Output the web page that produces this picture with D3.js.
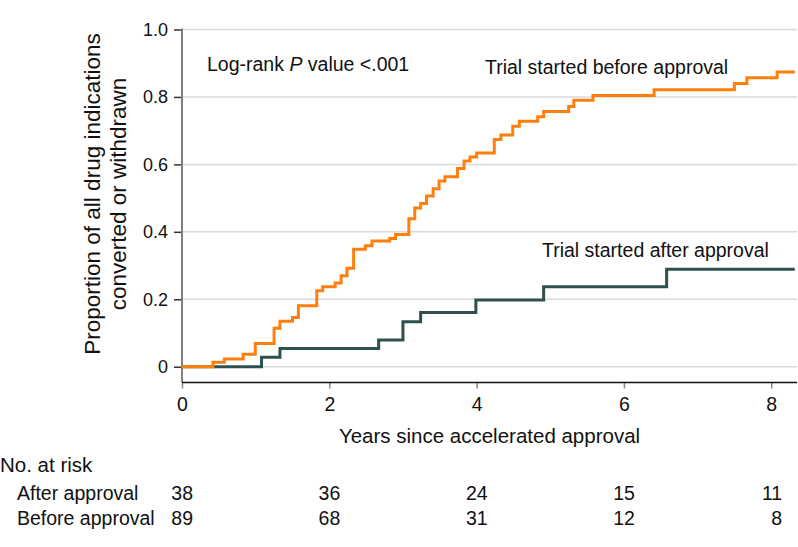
<!DOCTYPE html>
<html>
<head>
<meta charset="utf-8">
<script src="https://cdn.jsdelivr.net/npm/d3@7"></script>
<style>
  html, body { margin: 0; padding: 0; background: #fff; }
  svg { display: block; font-family: "Liberation Sans", Arial, sans-serif; }
</style>
</head>
<body>
<svg id="chart" width="798" height="547"></svg>
<script>
// ---- data ----
const beforeTimes = [0, 0.42, 0.575, 0.83, 0.995, 1.25, 1.33, 1.50, 1.58, 1.83, 1.91, 2.08, 2.16, 2.24, 2.33, 2.49, 2.58, 2.82, 2.90, 3.08, 3.16, 3.24, 3.32, 3.41, 3.49, 3.57, 3.74, 3.83, 3.91, 4.00, 4.24, 4.33, 4.49, 4.58, 4.83, 4.91, 5.25, 5.32, 5.58, 6.41, 7.50, 7.67, 8.08, 8.32];
const beforeValues = [0, 0.013, 0.023, 0.037, 0.069, 0.114, 0.135, 0.146, 0.181, 0.225, 0.237, 0.248, 0.270, 0.292, 0.348, 0.359, 0.373, 0.380, 0.392, 0.439, 0.471, 0.484, 0.506, 0.528, 0.551, 0.563, 0.588, 0.610, 0.622, 0.634, 0.674, 0.687, 0.713, 0.728, 0.741, 0.757, 0.772, 0.790, 0.804, 0.821, 0.840, 0.857, 0.874, 0.874];
const afterTimes = [0, 1.08, 1.33, 2.67, 3.00, 3.24, 3.99, 4.91, 6.58, 8.32];
const afterValues = [0, 0.028, 0.054, 0.079, 0.133, 0.161, 0.198, 0.237, 0.289, 0.289];

const xTicks = [0, 2, 4, 6, 8];
const yTicks = [0, 0.2, 0.4, 0.6, 0.8, 1.0];
const yTickLabels = ["0", "0.2", "0.4", "0.6", "0.8", "1.0"];

const riskLabels = ["After approval", "Before approval"];
const riskAfter = [38, 36, 24, 15, 11];
const riskBefore = [89, 68, 31, 12, 8];

// ---- layout ----
const svg = d3.select("#chart");
const x = d3.scaleLinear().domain([0, 8.35]).range([182, 797]);
const y = d3.scaleLinear().domain([0, 1]).range([366.7, 29.5]);
const axisY = 382.5;

const ORANGE = "#ff7f0e";
const DARK = "#2e5150";

// gridlines
svg.append("g").selectAll("line").data(yTicks).join("line")
  .attr("x1", x(0)).attr("x2", 797)
  .attr("y1", d => y(d)).attr("y2", d => y(d))
  .attr("stroke", "#d9d9d9").attr("stroke-width", 1.5);

// y axis
const yAxis = svg.append("g").attr("transform", `translate(${x(0)},0)`)
  .call(d3.axisLeft(y).tickValues(yTicks).tickSize(8).tickPadding(6)
    .tickFormat((d, i) => yTickLabels[i]));
yAxis.select(".domain").remove();
yAxis.selectAll(".tick line").attr("stroke", "#333").attr("stroke-width", 1.5);
yAxis.selectAll(".tick text").attr("font-size", 18).attr("fill", "#111")
  .attr("font-family", "Liberation Sans, Arial, sans-serif");
svg.append("line").attr("x1", x(0)).attr("x2", x(0)).attr("y1", y(1) - 1).attr("y2", axisY)
  .attr("stroke", "#808080").attr("stroke-width", 2);

// x axis
const xAxis = svg.append("g").attr("transform", `translate(0,${axisY})`)
  .call(d3.axisBottom(x).tickValues(xTicks).tickSize(6).tickPadding(9));
xAxis.select(".domain").remove();
xAxis.selectAll(".tick line").attr("stroke", "#888").attr("stroke-width", 1.5);
xAxis.selectAll(".tick text").attr("font-size", 19.5).attr("fill", "#111")
  .attr("font-family", "Liberation Sans, Arial, sans-serif");
svg.append("line").attr("x1", x(0)).attr("x2", 797).attr("y1", axisY).attr("y2", axisY)
  .attr("stroke", "#111").attr("stroke-width", 1.5);

// curves
const line = d3.line().x(d => x(d[0])).y(d => y(d[1])).curve(d3.curveStepAfter);
svg.append("path").datum(afterTimes.map((t, i) => [t, afterValues[i]]))
  .attr("d", line).attr("fill", "none").attr("stroke", DARK).attr("stroke-width", 3);
svg.append("path").datum(beforeTimes.map((t, i) => [t, beforeValues[i]]))
  .attr("d", line).attr("fill", "none").attr("stroke", ORANGE).attr("stroke-width", 3);

// annotations
const fs = 19.5;
const lr = svg.append("text").attr("x", 207).attr("y", 71).attr("font-size", fs).attr("fill", "#111");
lr.append("tspan").text("Log-rank ");
lr.append("tspan").attr("font-style", "italic").text("P");
lr.append("tspan").text(" value <.001");
svg.append("text").attr("x", 485).attr("y", 74).attr("font-size", fs).attr("fill", "#111")
  .text("Trial started before approval");
svg.append("text").attr("x", 542).attr("y", 257).attr("font-size", fs).attr("fill", "#111")
  .text("Trial started after approval");

// axis titles
svg.append("text").attr("x", (x(0) + 797) / 2).attr("y", 443).attr("text-anchor", "middle")
  .attr("font-size", 20.5).attr("fill", "#111").text("Years since accelerated approval");
const yt = svg.append("text").attr("transform", "translate(100,194) rotate(-90)")
  .attr("text-anchor", "middle").attr("font-size", 22.5).attr("fill", "#111");
yt.append("tspan").attr("x", 0).attr("y", 0).text("Proportion of all drug indications");
yt.append("tspan").attr("x", 0).attr("y", 26).text("converted or withdrawn");

// number at risk
svg.append("text").attr("x", 0).attr("y", 472).attr("font-size", 20.5).attr("fill", "#111").text("No. at risk");
const rows = [riskAfter, riskBefore];
rows.forEach((vals, r) => {
  const yy = 500 + r * 25;
  svg.append("text").attr("x", 17).attr("y", yy).attr("font-size", fs).attr("fill", "#111").text(riskLabels[r]);
  svg.append("g").selectAll("text").data(vals).join("text")
    .attr("x", (d, i) => x(xTicks[i]) + 11).attr("y", yy)
    .attr("text-anchor", "end").attr("font-size", fs).attr("fill", "#111")
    .text(d => d);
});
</script>
</body>
</html>
